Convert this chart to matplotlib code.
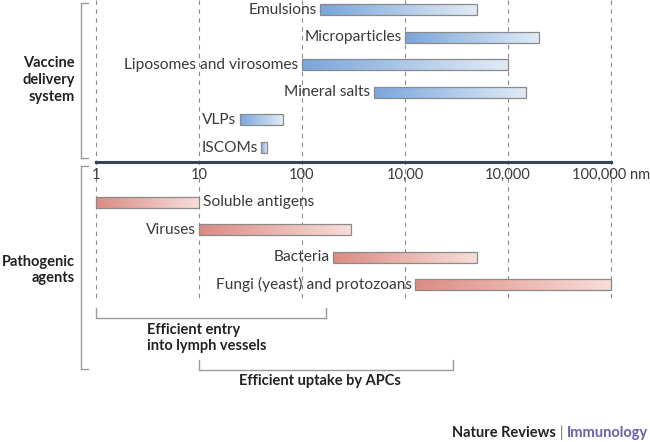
"""
Tailles des systèmes de délivrance vaccinale et des agents pathogènes
Barres horizontales sur une échelle logarithmique (nm)
"""

import numpy as np
import matplotlib
matplotlib.use("Agg")
import matplotlib.pyplot as plt
from matplotlib.colors import LinearSegmentedColormap

plt.rcParams['font.family'] = ['Lato', 'DejaVu Sans']

# Données (tailles en nm)
vaccins = ["Emulsions", "Microparticles", "Liposomes and virosomes",
           "Mineral salts", "VLPs", "ISCOMs"]
vaccins_min = [150, 1000, 100, 500, 25, 40]
vaccins_max = [5000, 20000, 10000, 15000, 65, 46]

pathogenes = ["Soluble antigens", "Viruses", "Bacteria",
              "Fungi (yeast) and protozoans"]
pathogenes_min = [1, 10, 200, 1250]
pathogenes_max = [10, 300, 5000, 100000]

graduations = [1, 10, 100, 1000, 10000, 100000]
etiquettes = ["1", "10", "100", "10,00", "10,000", "100,000 nm"]

entree_lymphe = (1, 170)     # "Efficient entry into lymph vessels"
capture_apc = (10, 2900)     # "Efficient uptake by APCs"

TEXTE = '#3a3a3a'
GRIS = '#9a9a9a'
FS = 11.2      # étiquettes des barres
FS_B = 10.5    # titres en gras
FS_T = 10.5    # graduations
bleu = LinearSegmentedColormap.from_list('bleu', ['#7aa6da', '#e0eaf6'])
rouge = LinearSegmentedColormap.from_list('rouge', ['#db8c83', '#f7dcd8'])

# Axe couvrant toute la figure, y en pixels, x en log (103 px par décade)
fig = plt.figure(figsize=(6.5, 4.42), dpi=100)
ax = fig.add_axes([0, 0, 1, 1])
ax.set_xscale('log')
ax.set_xlim(10 ** (-96 / 103), 10 ** ((650 - 96) / 103))
ax.set_ylim(442, 0)
ax.axis('off')


def px(x):
    # position horizontale en pixels -> valeur sur l'échelle log
    return 10 ** ((x - 96) / 103)


def barre(y, lo, hi, cmap, h=11, n=80):
    bords = np.logspace(np.log10(lo), np.log10(hi), n + 1)
    couleurs = cmap(np.linspace(0, 1, n))
    ax.barh([y] * n, bords[1:] - bords[:-1], left=bords[:-1], height=h,
            color=couleurs, edgecolor='none', zorder=3)
    ax.barh(y, hi - lo, left=lo, height=h, color='none',
            edgecolor='#8a8a8a', linewidth=0.9, zorder=4)


# Lignes pointillées verticales
for g in graduations:
    ax.plot([g, g], [0, 300], color='#8c8c8c', lw=0.8,
            dashes=(4, 4), zorder=1)

# Axe principal
ax.plot([graduations[0], graduations[-1]], [161.5, 161.5],
        color='#34475a', lw=2.2, zorder=5)
for g, e in zip(graduations, etiquettes):
    ax.text(g, 175, e, ha='center', va='center', fontsize=FS_T, color=TEXTE)

# Systèmes de délivrance
for i, (nom, lo, hi) in enumerate(zip(vaccins, vaccins_min, vaccins_max)):
    y = 9.5 + i * 27.6
    barre(y, lo, hi, bleu)
    ax.annotate(nom, (lo, y), xytext=(-2.5, 0), textcoords='offset points',
                ha='right', va='center', fontsize=FS, color=TEXTE)

# Agents pathogènes
for i, (nom, lo, hi) in enumerate(zip(pathogenes, pathogenes_min,
                                      pathogenes_max)):
    y = 202 + i * 27.5
    barre(y, lo, hi, rouge)
    if i == 0:
        ax.annotate(nom, (hi, y), xytext=(3, 0), textcoords='offset points',
                    ha='left', va='center', fontsize=FS, color=TEXTE)
    else:
        ax.annotate(nom, (lo, y), xytext=(-2.5, 0), textcoords='offset points',
                    ha='right', va='center', fontsize=FS, color=TEXTE)

# Accolades de gauche (en pixels)
for haut, bas in [(3, 158), (166, 369)]:
    ax.plot([px(88), px(81), px(81), px(88)], [haut, haut, bas, bas],
            color=GRIS, lw=1)

ax.text(px(75), 80, "Vaccine\ndelivery\nsystem", ha='right', va='center',
        fontsize=FS_B, fontweight='bold', color='#222222', linespacing=1.25)
ax.text(px(75), 270, "Pathogenic\nagents", ha='right', va='center',
        fontsize=FS_B, fontweight='bold', color='#222222', linespacing=1.25)

# Accolades du bas
ax.plot([entree_lymphe[0], entree_lymphe[0], entree_lymphe[1], entree_lymphe[1]],
        [308, 318, 318, 308], color=GRIS, lw=1)
ax.text(px(147), 338, "Efficient entry\ninto lymph vessels",
        ha='left', va='center', fontsize=FS_B, fontweight='bold',
        color='#222222', linespacing=1.2)
ax.plot([capture_apc[0], capture_apc[0], capture_apc[1], capture_apc[1]],
        [360, 370, 370, 360], color=GRIS, lw=1)
ax.text(px(239), 381, "Efficient uptake by APCs", ha='left', va='center',
        fontsize=FS_B, fontweight='bold', color='#222222')

# Signature
t = ax.text(px(648), 433, "Immunology", ha='right', va='center',
            fontsize=FS_B, fontweight='bold', color='#6b5fa6')
t2 = ax.annotate(" | ", xy=(0, 0.5), xycoords=t, ha='right', va='center',
                 fontsize=FS_B, color='#777777')
ax.annotate("Nature Reviews", xy=(0, 0.5), xycoords=t2, ha='right',
            va='center', fontsize=FS_B, fontweight='bold', color='#222222')

fig.savefig("out.png", dpi=100)
